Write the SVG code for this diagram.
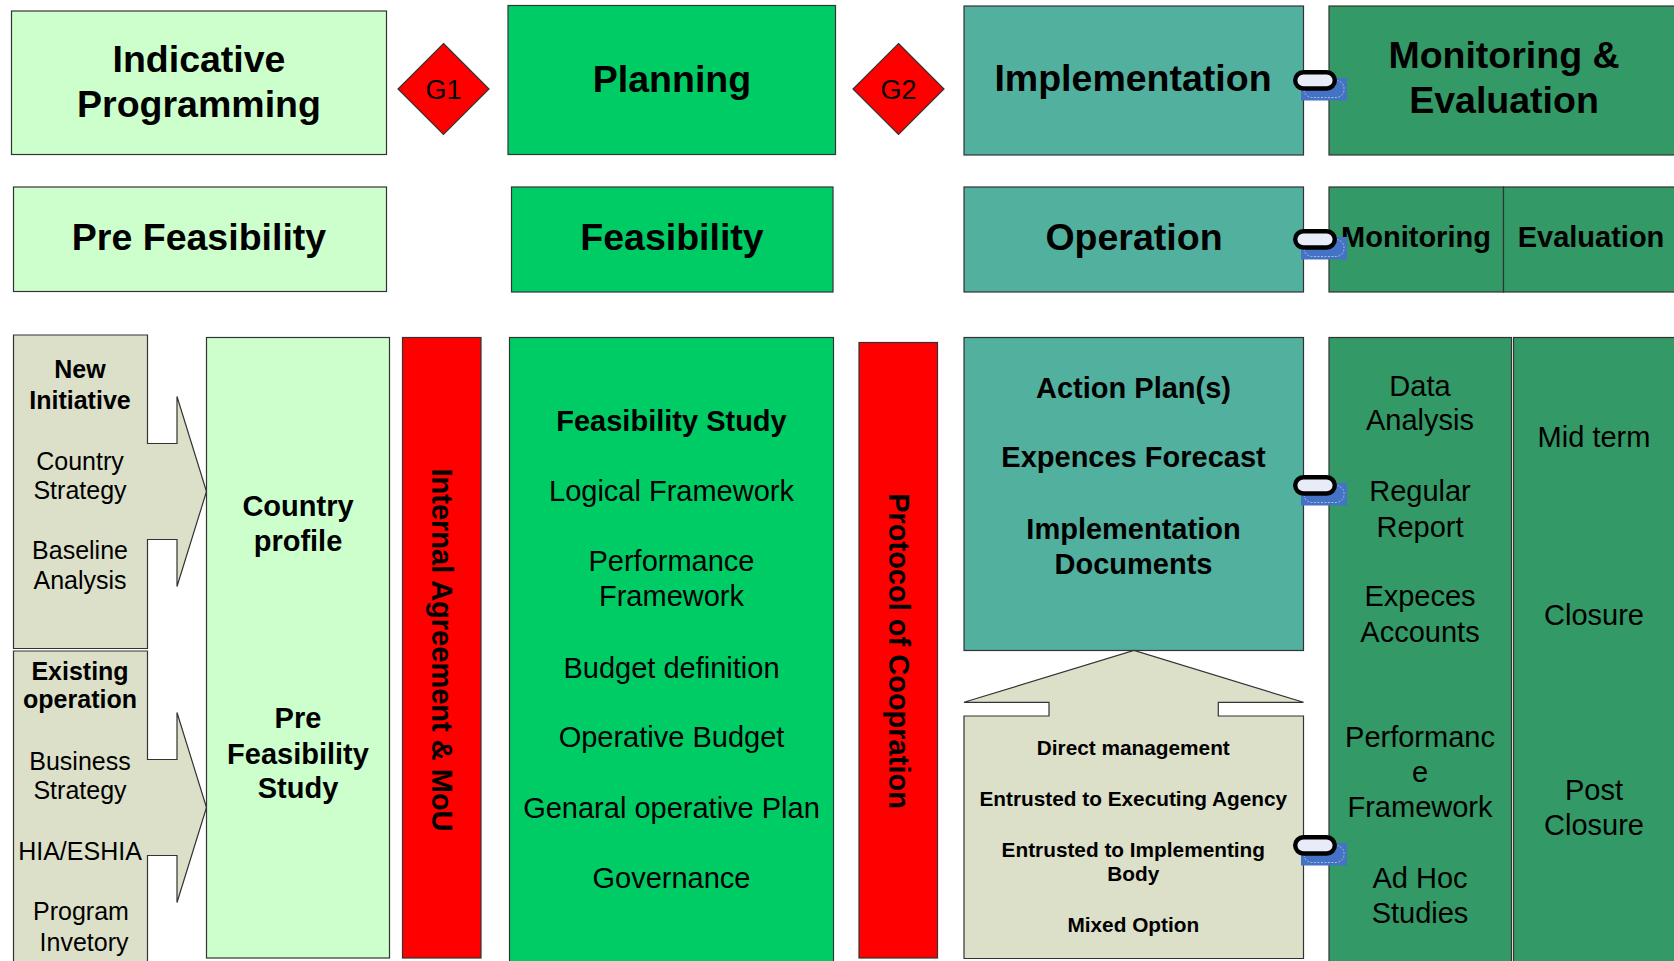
<svg xmlns="http://www.w3.org/2000/svg" xmlns:xlink="http://www.w3.org/1999/xlink" width="1674" height="961" viewBox="0 0 1674 961">
<style>
  text { font-family: "Liberation Sans", Arial, sans-serif; fill: #000; text-anchor: middle; }
  .h1 { font-size: 37.5px; font-weight: bold; }
  .h2 { font-size: 29px; font-weight: bold; }
  .b29 { font-size: 29px; font-weight: bold; }
  .r29 { font-size: 29px; }
  .b25 { font-size: 25px; font-weight: bold; }
  .r25 { font-size: 25px; }
  .b21 { font-size: 20.8px; font-weight: bold; }
  .gate { font-size: 27px; }
  .box { stroke: #333; stroke-width: 1.2; }
  .lg { fill: #ccffcc; }
  .gr { fill: #00cc66; }
  .rd { fill: #ff0000; }
  .tl { fill: #52b09e; }
  .dg { fill: #339966; }
  .bg { fill: #dde0c9; }
</style>
<defs>
  <g id="link">
    <rect x="8" y="8" width="46" height="22.5" fill="#4472c4"/>
    <rect x="11" y="10.5" width="40" height="17" rx="8" fill="none" stroke="#a9bde6" stroke-width="1" stroke-dasharray="2,1.5"/>
    <rect x="2.2" y="2.2" width="39.6" height="16.3" rx="8.2" fill="#e8ecf8" stroke="#000" stroke-width="4.4"/>
  </g>
</defs>

<g id="indicative-programming">
  <rect class="box lg" x="11.5" y="11" width="375" height="143.5"/>
  <text class="h1" x="199" y="71.7">Indicative</text>
  <text class="h1" x="199" y="116.7">Programming</text>
</g>
<g id="g1">
  <polygon class="box rd" points="443.5,43.5 489,89 443.5,134.5 398,89"/>
  <text class="gate" x="443.5" y="98.5">G1</text>
</g>
<g id="planning">
  <rect class="box gr" x="508" y="5.5" width="327.5" height="149"/>
  <text class="h1" x="672" y="91.7">Planning</text>
</g>
<g id="g2">
  <polygon class="box rd" points="898.5,43.5 944,89 898.5,134.5 853,89"/>
  <text class="gate" x="898.5" y="98.5">G2</text>
</g>
<g id="implementation">
  <rect class="box tl" x="964" y="6" width="339.5" height="149"/>
  <text class="h1" x="1133" y="90.7">Implementation</text>
</g>
<g id="monitoring-evaluation">
  <rect class="box dg" x="1329" y="6" width="350" height="149"/>
  <text class="h1" x="1504" y="68.3">Monitoring &amp;</text>
  <text class="h1" x="1504" y="113.3">Evaluation</text>
</g>

<g id="pre-feasibility">
  <rect class="box lg" x="13.5" y="187" width="373" height="104.5"/>
  <text class="h1" x="199" y="250">Pre Feasibility</text>
</g>
<g id="feasibility">
  <rect class="box gr" x="511.5" y="187" width="321.5" height="105"/>
  <text class="h1" x="672" y="250">Feasibility</text>
</g>
<g id="operation">
  <rect class="box tl" x="964" y="187" width="339.5" height="105"/>
  <text class="h1" x="1134" y="250">Operation</text>
</g>
<g id="monitoring">
  <rect class="box dg" x="1329" y="187" width="174.5" height="105"/>
  <text class="h2" x="1416" y="246.7">Monitoring</text>
</g>
<g id="evaluation">
  <rect class="box dg" x="1503.5" y="187" width="175" height="105"/>
  <text class="h2" x="1591" y="246.7">Evaluation</text>
</g>

<g id="new-initiative">
  <path class="box bg" d="M13.5,335 H147.5 V443.5 H177 V396.5 L206.5,491.5 L177,586.5 V539.5 H147.5 V648.5 H13.5 Z"/>
  <text class="b25" x="80" y="378">New</text>
  <text class="b25" x="80" y="409">Initiative</text>
  <text class="r25" x="80" y="469.5">Country</text>
  <text class="r25" x="80" y="498.5">Strategy</text>
  <text class="r25" x="80" y="559">Baseline</text>
  <text class="r25" x="80" y="589">Analysis</text>
</g>
<g id="existing-operation">
  <path class="box bg" d="M13.5,651 H147.5 V759.5 H177 V712.5 L206.5,807.5 L177,902.5 V855.5 H147.5 V970 H13.5 Z"/>
  <text class="b25" x="80" y="679.5">Existing</text>
  <text class="b25" x="80" y="708">operation</text>
  <text class="r25" x="80" y="769.5">Business</text>
  <text class="r25" x="80" y="799">Strategy</text>
  <text class="r25" x="80" y="859.5">HIA/ESHIA</text>
  <text class="r25" x="81" y="920">Program</text>
  <text class="r25" x="84" y="951">Invetory</text>
</g>

<g id="country-profile">
  <rect class="box lg" x="206.5" y="337.5" width="183" height="620.5"/>
  <text class="b29" x="298" y="515.5">Country</text>
  <text class="b29" x="298" y="551">profile</text>
  <text class="b29" x="298" y="727.5">Pre</text>
  <text class="b29" x="298" y="763.5">Feasibility</text>
  <text class="b29" x="298" y="797.5">Study</text>
</g>

<g id="internal-agreement">
  <rect class="box rd" x="402.5" y="337.5" width="78.5" height="620.5"/>
  <text class="b29" transform="translate(442,650) rotate(90)" x="0" y="10.3">Internal Agreement &amp; MoU</text>
</g>

<g id="feasibility-study">
  <rect class="box gr" x="509.5" y="337.5" width="324" height="630"/>
  <text class="b29" x="671.5" y="431.2">Feasibility Study</text>
  <text class="r29" x="671.5" y="500.7">Logical Framework</text>
  <text class="r29" x="671.5" y="571.4">Performance</text>
  <text class="r29" x="671.5" y="606.2">Framework</text>
  <text class="r29" x="671.5" y="677.7">Budget definition</text>
  <text class="r29" x="671.5" y="747.2">Operative Budget</text>
  <text class="r29" x="671.5" y="818">Genaral operative Plan</text>
  <text class="r29" x="671.5" y="888.3">Governance</text>
</g>

<g id="protocol-of-cooperation">
  <rect class="box rd" x="859" y="342.5" width="78.5" height="615.5"/>
  <text class="b29" transform="translate(899,651) rotate(90)" x="0" y="10.3">Protocol of Coopration</text>
</g>

<g id="action-plans">
  <rect class="box tl" x="964" y="337.5" width="339.5" height="313"/>
  <text class="b29" x="1133.5" y="397.7">Action Plan(s)</text>
  <text class="b29" x="1133.5" y="467.2">Expences Forecast</text>
  <text class="b29" x="1133.5" y="538.7">Implementation</text>
  <text class="b29" x="1133.5" y="573.5">Documents</text>
</g>

<g id="management-modes">
  <path class="box bg" d="M964,958.5 V716 H1049 V702.3 H964 L1134,650.5 L1303.5,702.3 H1218.3 V716 H1303.5 V958.5 Z"/>
  <text class="b21" x="1133.3" y="755">Direct management</text>
  <text class="b21" x="1133.3" y="805.7">Entrusted to Executing Agency</text>
  <text class="b21" x="1133.3" y="856.7">Entrusted to Implementing</text>
  <text class="b21" x="1133.3" y="880.7">Body</text>
  <text class="b21" x="1133.3" y="931.7">Mixed Option</text>
</g>

<g id="monitoring-activities">
  <rect class="box dg" x="1329" y="337.5" width="182.5" height="630"/>
  <text class="r29" x="1420" y="395.6">Data</text>
  <text class="r29" x="1420" y="430.4">Analysis</text>
  <text class="r29" x="1420" y="501.1">Regular</text>
  <text class="r29" x="1420" y="536.7">Report</text>
  <text class="r29" x="1420" y="606.2">Expeces</text>
  <text class="r29" x="1420" y="641.7">Accounts</text>
  <text class="r29" x="1420" y="747.2">Performanc</text>
  <text class="r29" x="1420" y="782">e</text>
  <text class="r29" x="1420" y="816.7">Framework</text>
  <text class="r29" x="1420" y="888.3">Ad Hoc</text>
  <text class="r29" x="1420" y="923">Studies</text>
</g>

<g id="evaluation-activities">
  <rect class="box dg" x="1513.5" y="337.5" width="165" height="630"/>
  <text class="r29" x="1594" y="446.7">Mid term</text>
  <text class="r29" x="1594" y="624.6">Closure</text>
  <text class="r29" x="1594" y="800.4">Post</text>
  <text class="r29" x="1594" y="835.1">Closure</text>
</g>

<g id="connectors">
  <use xlink:href="#link" href="#link" x="1293" y="70"/>
  <use xlink:href="#link" href="#link" x="1293" y="229"/>
  <use xlink:href="#link" href="#link" x="1293" y="475"/>
  <use xlink:href="#link" href="#link" x="1293" y="835"/>
</g>
</svg>
